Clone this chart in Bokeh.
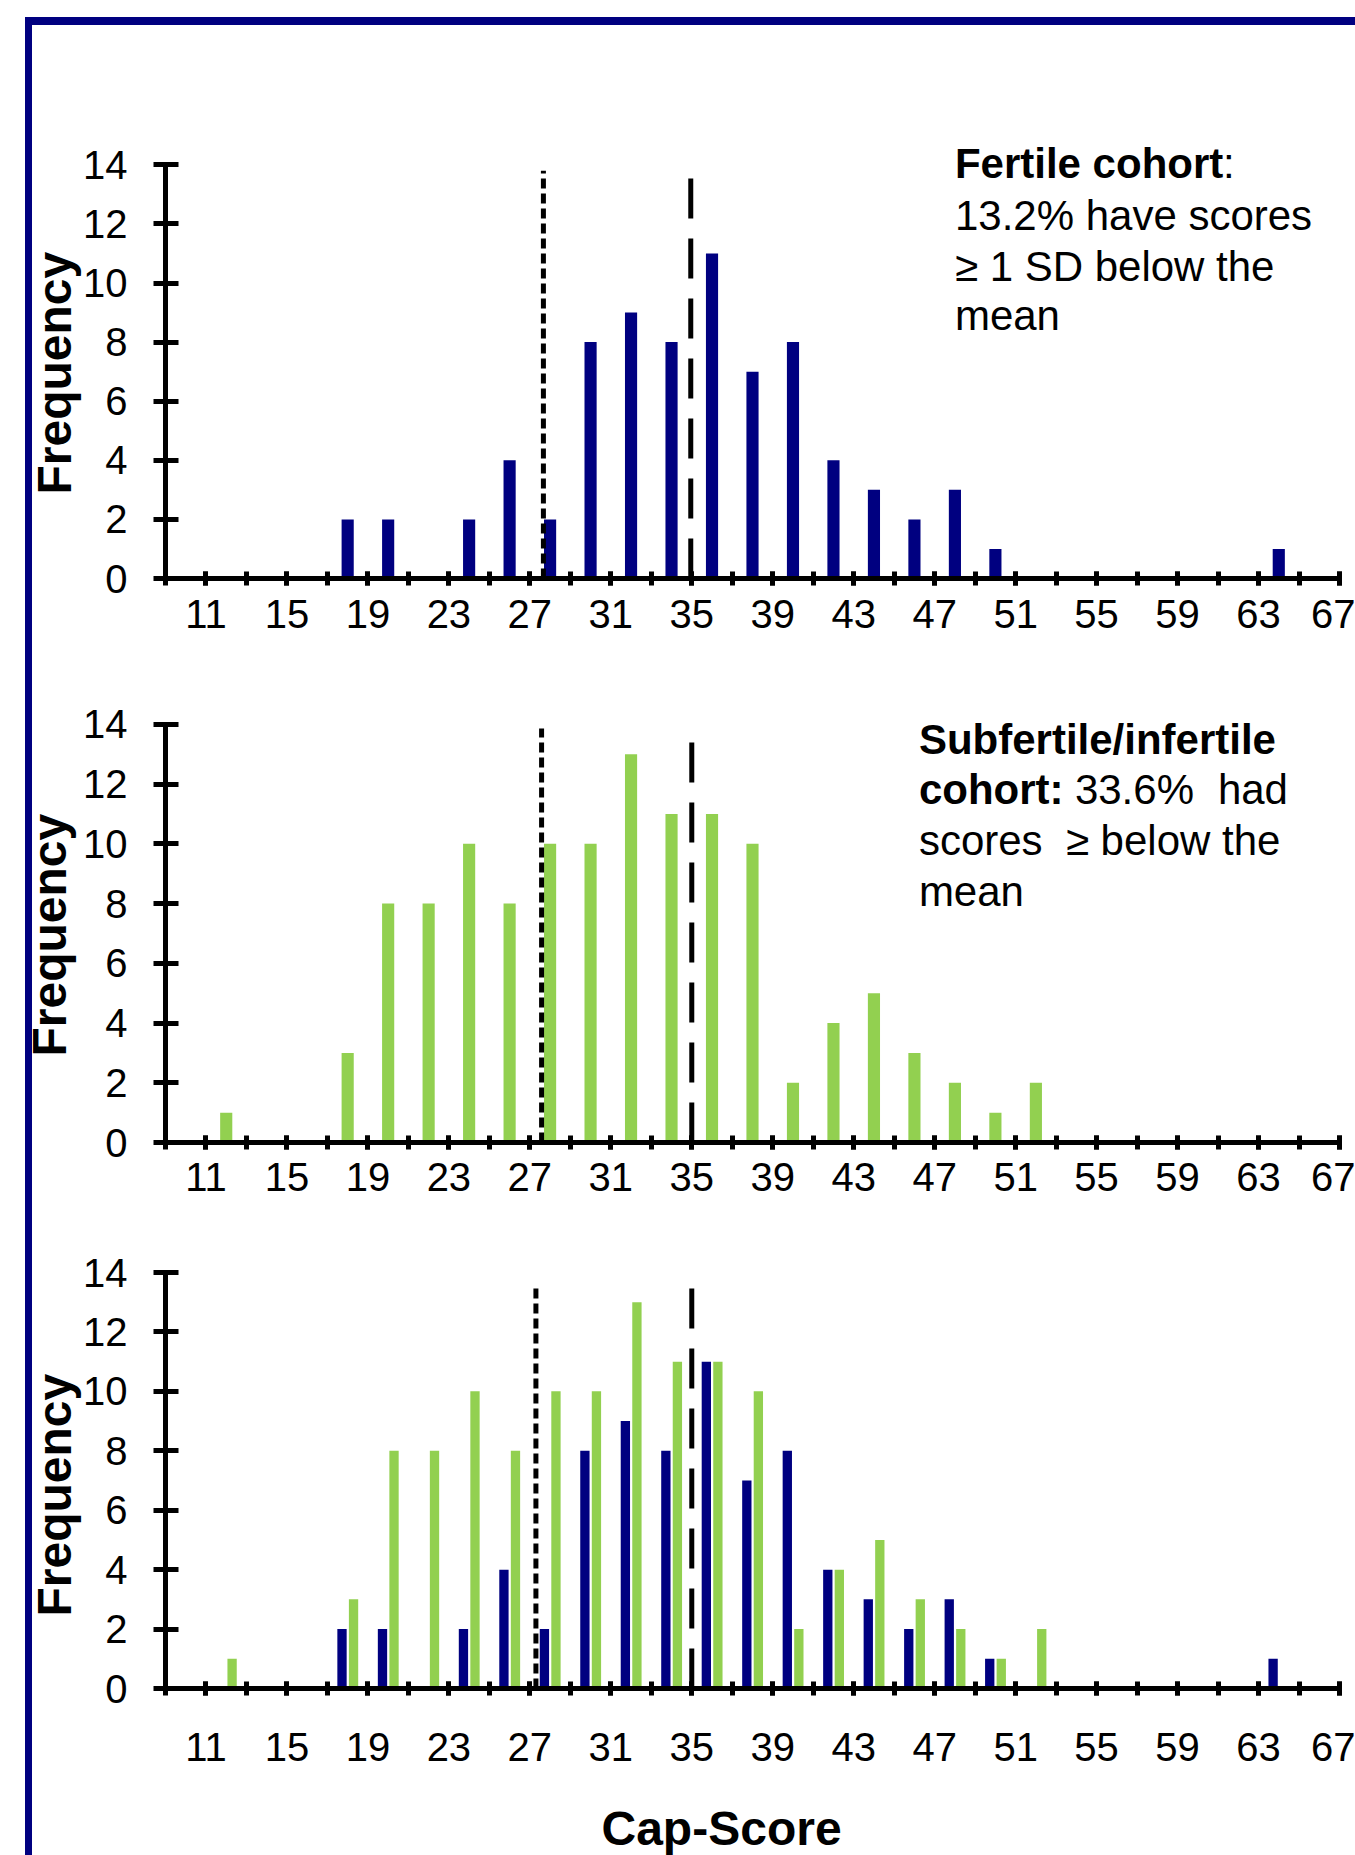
import numpy as np
from bokeh.plotting import figure
from bokeh.models import FixedTicker, Label, Title
from bokeh.layouts import column
from bokeh.embed import file_html
from bokeh.resources import INLINE

# ---------------- data ----------------
fertile_scores = [18, 20, 24, 26, 28, 30, 32, 34, 36, 38, 40, 42, 44, 46, 48, 50, 64]
fertile_freq = [2, 2, 2, 4, 2, 8, 9, 8, 11, 7, 8, 4, 3, 2, 3, 1, 1]

subfertile_scores = [12, 18, 20, 22, 24, 26, 28, 30, 32, 34, 36, 38, 40, 42, 44, 46, 48, 50, 52]
subfertile_freq = [1, 3, 8, 8, 10, 8, 10, 10, 13, 11, 11, 10, 2, 4, 5, 3, 2, 1, 2]

x_tick_labels = [11, 15, 19, 23, 27, 31, 35, 39, 43, 47, 51, 55, 59, 63, 67]
x_minor_ticks = [9, 11, 13, 15, 17, 19, 21, 23, 25, 27, 29, 31, 33, 35, 37, 39,
                 41, 43, 45, 47, 49, 51, 53, 55, 57, 59, 61, 63, 65, 67]
y_ticks = [0, 2, 4, 6, 8, 10, 12, 14]

# reference lines (mean - 1 SD, mean) per panel
top_sd_line, top_mean_line = 27.67, 34.95
mid_sd_line, mid_mean_line = 27.58, 35.0
bot_sd_line, bot_mean_line = 27.3, 35.0

NAVY = "#000080"
GREEN = "#92D050"
FONT = "Liberation Sans"

BAR = "linear-gradient(#000080, #000080)"
frame_top_styles = {
    "background-image": BAR + ", " + BAR,
    "background-size": "7px 640px, 1340px 8px",
    "background-position": "25px 17px, 25px 17px",
    "background-repeat": "no-repeat",
}
frame_side_styles = {
    "background-image": BAR,
    "background-size": "7px 100%",
    "background-position": "25px 0px",
    "background-repeat": "no-repeat",
}


def make_panel(height, ymax, left, top, bottom, standoff, styles,
               freq_offset, freq_standoff):
    p = figure(width=1355, height=height, x_range=(9, 67), y_range=(0, ymax),
               output_backend="svg", toolbar_location=None,
               min_border_left=left, min_border_right=16,
               min_border_top=top, min_border_bottom=bottom,
               styles=styles)
    p.xgrid.visible = False
    p.ygrid.visible = False
    p.outline_line_color = None
    p.background_fill_color = "white"
    p.border_fill_color = None

    xa = p.xaxis[0]
    xa.ticker = FixedTicker(ticks=x_tick_labels, minor_ticks=x_minor_ticks)
    xa.axis_line_width = 5
    xa.axis_line_color = "black"
    xa.major_tick_line_width = 5
    xa.minor_tick_line_width = 5
    xa.major_tick_line_color = "black"
    xa.minor_tick_line_color = "black"
    xa.major_tick_in = 7
    xa.major_tick_out = 7
    xa.minor_tick_in = 7
    xa.minor_tick_out = 7
    xa.major_label_text_font = FONT
    xa.major_label_text_font_size = "40px"
    xa.major_label_text_color = "black"
    xa.major_label_standoff = standoff

    ya = p.yaxis[0]
    ya.ticker = FixedTicker(ticks=y_ticks)
    ya.bounds = (0, 14)
    ya.axis_line_width = 5
    ya.axis_line_color = "black"
    ya.major_tick_line_width = 5
    ya.major_tick_line_color = "black"
    ya.minor_tick_line_color = None
    ya.major_tick_in = 13
    ya.major_tick_out = 12
    ya.major_label_text_font = FONT
    ya.major_label_text_font_size = "40px"
    ya.major_label_text_color = "black"
    ya.major_label_standoff = 26

    p.add_layout(Title(text="Frequency", align="left", offset=freq_offset,
                       standoff=freq_standoff, text_font=FONT,
                       text_font_size="48px", text_font_style="bold",
                       text_color="black"), "left")
    return p


def txt(p, x, y, s, bold=False, size="42px", **kw):
    p.add_layout(Label(x=x, y=y, text=s, text_font=FONT, text_font_size=size,
                       text_font_style="bold" if bold else "normal",
                       text_color="black", text_baseline="alphabetic", **kw))


# ---------------- top panel (fertile) ----------------
p1 = make_panel(650, 15.5, 161, 120, 72, 14, frame_top_styles, 84, 0)
p1.vbar(x=fertile_scores, top=fertile_freq, width=0.6, bottom=0,
        fill_color=NAVY, line_color=None)
p1.segment(x0=[top_sd_line], y0=[0], x1=[top_sd_line], y1=[13.8],
           line_color="black", line_width=5, line_dash="10 5")
p1.segment(x0=[top_mean_line], y0=[0], x1=[top_mean_line], y1=[13.65],
           line_color="black", line_width=5, line_dash="40 20")
tx = 48.0
txt(p1, tx, 14.05, "Fertile cohort", bold=True)
txt(p1, tx, 14.05, ":", x_offset=268)
txt(p1, tx, 12.29, "13.2% have scores")
txt(p1, tx, 10.56, "\u2265 1 SD below the")
txt(p1, tx, 8.9, "mean")

# ---------------- middle panel (subfertile/infertile) ----------------
p2 = make_panel(565, 15.0, 165, 44, 73, 13, frame_side_styles, 86, 10)
p2.vbar(x=subfertile_scores, top=subfertile_freq, width=0.6, bottom=0,
        fill_color=GREEN, line_color=None)
p2.segment(x0=[mid_sd_line], y0=[0], x1=[mid_sd_line], y1=[13.86],
           line_color="black", line_width=5, line_dash="10 5")
p2.segment(x0=[mid_mean_line], y0=[0], x1=[mid_mean_line], y1=[13.7],
           line_color="black", line_width=5, line_dash="40 20")
mx = 46.22
txt(p2, mx, 13.5, "Subfertile/infertile", bold=True)
txt(p2, mx, 11.83, "cohort:", bold=True)
txt(p2, mx, 11.83, "33.6%", x_offset=156)
txt(p2, mx, 11.83, "had", x_offset=299)
txt(p2, mx, 10.11, "scores")
txt(p2, mx, 10.11, "\u2265 below the", x_offset=147)
txt(p2, mx, 8.39, "mean")

# ---------------- bottom panel (both) ----------------
p3 = make_panel(640, 14, 162, 57, 167, 37, frame_side_styles, 72, 0)
p3.vbar(x=np.array(fertile_scores) - 0.28, top=fertile_freq, width=0.46, bottom=0,
        fill_color=NAVY, line_color=None)
p3.vbar(x=np.array(subfertile_scores) + 0.29, top=subfertile_freq, width=0.46, bottom=0,
        fill_color=GREEN, line_color=None)
p3.segment(x0=[bot_sd_line], y0=[0], x1=[bot_sd_line], y1=[13.6],
           line_color="black", line_width=5, line_dash="10 5")
p3.segment(x0=[bot_mean_line], y0=[0], x1=[bot_mean_line], y1=[13.56],
           line_color="black", line_width=5, line_dash="40 20")
# spacer between tick labels and the axis title
p3.xaxis[0].axis_label = " "
p3.xaxis[0].axis_label_text_font_size = "1px"
p3.xaxis[0].axis_label_standoff = 32
p3.add_layout(Title(text="Cap-Score", align="left", offset=436, standoff=0,
                    text_font=FONT, text_font_size="48px", text_font_style="bold",
                    text_color="black"), "below")

root = column(p1, p2, p3, spacing=0)

open("out.html", "w").write(file_html(root, INLINE))
